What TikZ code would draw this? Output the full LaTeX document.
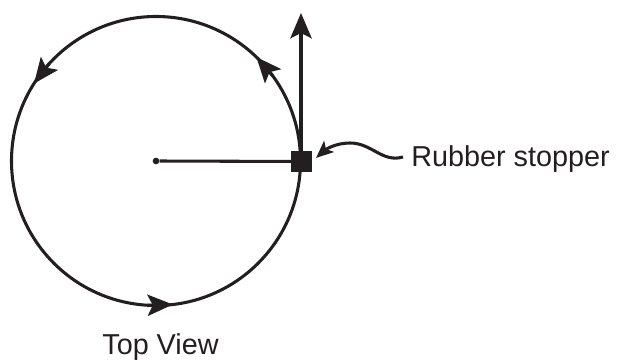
\documentclass[tikz,border=0pt]{standalone}
\usepackage{fontspec}
\setmainfont{Liberation Sans}
\usetikzlibrary{arrows.meta,calc}
\definecolor{ink}{HTML}{231F20}
\tikzset{
  x=0.75pt,y=0.75pt,
  line/.style={draw=ink,line width=2.3pt},
  bighead/.style={-{Stealth[length=19pt,width=16pt,inset=4pt]}},
  smallhead/.style={-{Stealth[length=13pt,width=11pt,inset=3pt]}},
  label/.style={text=ink,font=\fontsize{21.6}{26}\selectfont,inner sep=0pt},
}
\begin{document}
\begin{tikzpicture}
\useasboundingbox (0,0) rectangle (617,360);
\coordinate (c) at (156,199);
\node[circle,fill=ink,minimum size=5pt,inner sep=0pt] (hub) at (c) {};
\coordinate (up) at (301,347);
\coordinate (tip) at (316,202);
\node[label,anchor=west] (rs) at (411,201) {Rubber stopper};
\node[label] (tv) at (160.5,13) {Top View};
\draw[line] (c) circle[radius=144.5];
\draw[line] (hub) -- (301,198.5);
\draw[line,bighead] (301,198.5) -- (up);
\draw[line,bighead] ($(c)+(36:144.5)$) -- ($(c)+(46:144.5)$);
\draw[line,bighead] ($(c)+(137.6:144.5)$) -- ($(c)+(147.6:144.5)$);
\draw[line,bighead] ($(c)+(266.7:144.5)$) -- ($(c)+(276.7:144.5)$);
\node[fill=ink,minimum size=16pt,inner sep=0pt] (stopper) at (301.5,198.5) {};
\draw[line,smallhead] ($(rs.west)+(-8,2)$) .. controls (382,197) and (372,217) .. (350,217) .. controls (335,217) and (325,210) .. (tip);
\end{tikzpicture}
\end{document}
